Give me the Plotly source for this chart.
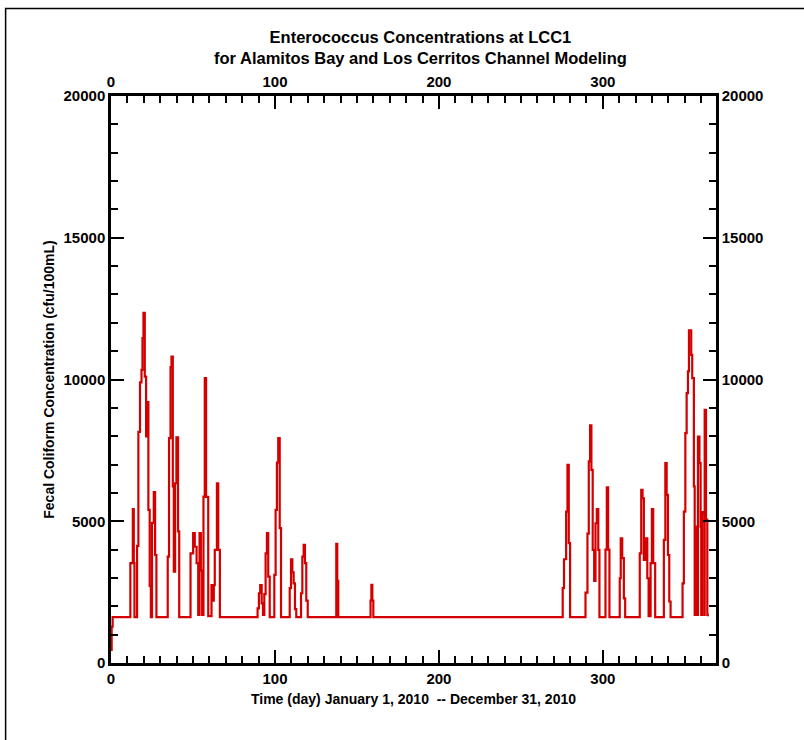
import plotly.graph_objects as go

# Modeled Enterococcus concentration at station LCC1, 2010.
# Each list holds change points: time in days and the value that holds from then on.
winter_days = [0, 0.4, 1.0,
               11.8, 13.3, 13.9, 14.3, 15.9, 16.7, 17.7, 18.6, 19.2, 19.8, 20.6,
               21.4, 22.0, 22.8, 23.6, 24.3, 25.0, 26.1, 26.9, 27.7]
winter_vals = [460, 1280, 1620,
               3520, 5430, 3520, 1620, 4130, 8150, 9900, 10340, 11460, 12350, 10100,
               7990, 9200, 5400, 2720, 1620, 4940, 6030, 3810, 1620]

feb_days = [34.6, 35.4, 36.3, 36.9, 37.7, 38.3, 39.1, 39.9, 40.9, 41.6,
            48.5, 50.1, 51.1, 52.2, 53.2, 54.0, 54.8, 55.6, 56.4, 57.2, 58.0,
            59.3, 61.3, 62.2, 62.7, 63.3, 64.6, 65.4, 66.4]
feb_vals = [3750, 7930, 10440, 10810, 6230, 3220, 6340, 7960, 4640, 1620,
            3870, 4580, 4100, 3520, 1700, 4580, 3260, 1700, 5870, 10050, 5860,
            1650, 2750, 2200, 2750, 3990, 6340, 3990, 1620]

spring_days = [89.4, 90.2, 91.0, 91.9, 92.7, 93.5, 94.3, 95.1, 95.9, 96.8,
               99.6, 100.4, 101.2, 102.0, 102.9, 103.7,
               109.0, 109.8, 110.6, 111.4, 112.2, 113.0,
               115.9, 116.7, 117.5, 118.3, 119.1, 120.0,
               137.4, 138.0, 138.6,
               158.3, 158.8, 159.4, 160.0]
spring_vals = [1930, 2460, 2750, 2100, 1700, 2430, 3870, 4580, 3050, 1620,
               3110, 5400, 7070, 7930, 4760, 1620,
               2640, 3660, 3200, 2810, 1900, 1620,
               2460, 3750, 4170, 3520, 2200, 1620,
               4200, 2900, 1620,
               2200, 2760, 2200, 1620]

fall_days = [275.5, 276.3, 277.6, 278.4, 279.2, 280.0,
             289.4, 290.6, 291.4, 292.2, 293.0, 293.8, 294.7, 295.5, 296.3, 297.2, 297.9,
             301.6, 302.4, 303.2, 304.0,
             310.3, 310.9, 311.8, 312.8, 313.6,
             322.5, 323.4, 324.2, 325.0, 325.8, 327.1, 327.9, 329.1, 329.9, 330.7, 331.9,
             337.2, 338.1, 338.9, 339.7, 340.5, 341.3]
fall_vals = [2640, 3660, 5340, 6990, 4230, 1620,
             2480, 4560, 7110, 8380, 6810, 3990, 2900, 4930, 5430, 3990, 1620,
             4000, 6200, 4000, 1620,
             2990, 4400, 3700, 2280, 1620,
             3870, 6110, 5810, 3640, 4400, 2990, 1650, 3520, 5430, 3520, 1620,
             4340, 7050, 5930, 3810, 2170, 1620]

dec_days = [348.6, 349.4, 350.3, 351.1, 351.9, 352.5, 353.9, 354.5, 355.5, 356.0,
            356.4, 357.2, 358.0, 358.9, 359.6, 360.0, 360.4, 361.3, 361.8, 362.1,
            362.9, 363.7, 364.0]
dec_vals = [2810, 5340, 8110, 9520, 10290, 11730, 10870, 10050, 6230, 1700,
            4810, 1700, 7990, 7050, 4810, 1700, 5320, 5300, 1700, 8930,
            5060, 1700, 1650]

x_ticks = [0, 100, 200, 300]
y_ticks = [0, 5000, 10000, 15000, 20000]
x_range = [0, 369]
y_range = [0, 20000]

days = winter_days + feb_days + spring_days + fall_days + dec_days
conc = winter_vals + feb_vals + spring_vals + fall_vals + dec_vals

FONT = "Liberation Sans"
tick_font = dict(family=FONT, size=15, color="black", weight="bold")
label_font = dict(family=FONT, size=14, color="black", weight="bold")

fig = go.Figure()
fig.add_trace(go.Scatter(
    x=days, y=conc, mode="lines", line=dict(color="#d40000", width=2.2, shape="hv"),
    showlegend=False, hoverinfo="x+y"))
# empty trace so the mirrored top/right axes are drawn
fig.add_trace(go.Scatter(x=[None], y=[None], xaxis="x2", yaxis="y2",
                         showlegend=False, hoverinfo="skip"))

axis_common = dict(showline=True, linecolor="black", linewidth=2.5,
                   ticks="inside", ticklen=13, tickwidth=2, tickcolor="black",
                   showgrid=False, zeroline=False, tickfont=tick_font)
x_minor = dict(ticks="inside", ticklen=7, tickwidth=1.5, tickcolor="black", dtick=10, tick0=0)
y_minor = dict(ticks="inside", ticklen=7, tickwidth=1.5, tickcolor="black", dtick=1000, tick0=0)

fig.update_layout(
    width=804, height=740,
    margin=dict(l=111, r=88, t=96, b=77),
    paper_bgcolor="white", plot_bgcolor="white",
    xaxis=dict(range=x_range, tickvals=x_ticks, ticktext=[str(t) for t in x_ticks],
               minor=x_minor,
               title=dict(text="Time (day) January 1, 2010  -- December 31, 2010",
                          font=label_font, standoff=9),
               **axis_common),
    xaxis2=dict(range=x_range, overlaying="x", side="top", tickvals=x_ticks,
                ticktext=[str(t) for t in x_ticks], minor=x_minor, **axis_common),
    yaxis=dict(range=y_range, tickvals=y_ticks, ticktext=[str(t) for t in y_ticks],
               minor=y_minor,
               title=dict(text="Fecal Coliform Concentration (cfu/100mL)",
                          font=label_font, standoff=6),
               **axis_common),
    yaxis2=dict(range=y_range, overlaying="y", side="right", tickvals=y_ticks,
                ticktext=[str(t) for t in y_ticks], minor=y_minor, **axis_common),
    annotations=[dict(
        text="Enterococcus Concentrations at LCC1<br>for Alamitos Bay and Los Cerritos Channel Modeling",
        xref="paper", yref="paper", x=0.512, y=1.085, xanchor="center", yanchor="middle",
        showarrow=False, font=dict(family=FONT, size=16.5, color="black", weight="bold"))],
    shapes=[dict(type="rect", xref="paper", yref="paper",
                 x0=-0.1742, x1=1.16, y0=-0.145, y1=1.1545,
                 line=dict(color="black", width=1.5), fillcolor="rgba(0,0,0,0)", layer="below")],
)

fig.write_html("out.html")
